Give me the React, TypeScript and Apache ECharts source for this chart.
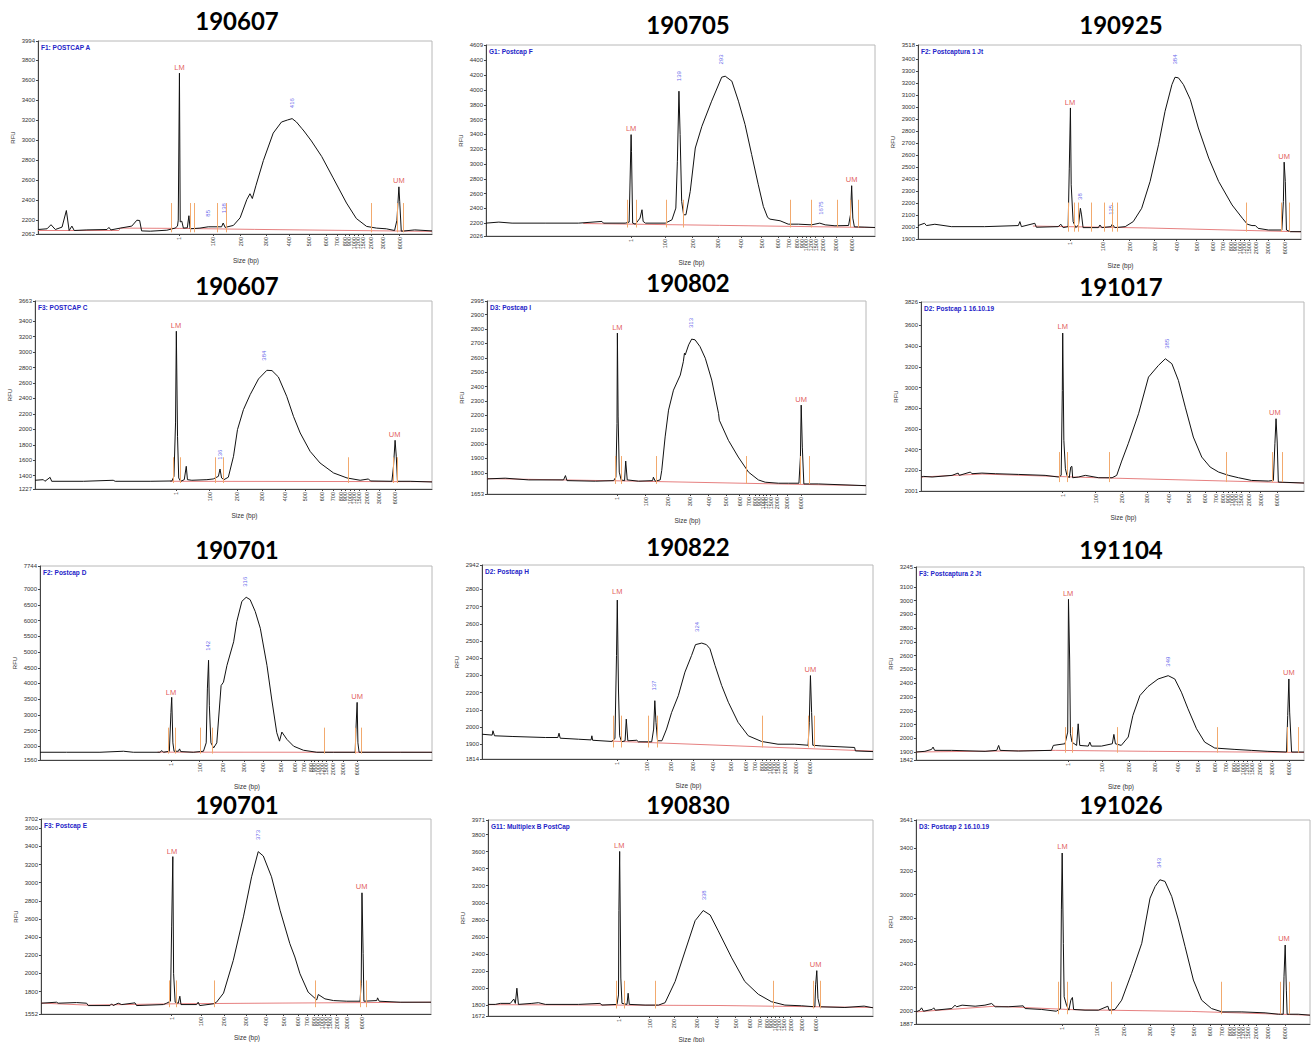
import React, { useEffect, useRef } from "react";
import * as echarts from "echarts";

// ---------- ladder (x-axis tick labels) ----------
const LADDER_SIZES = [1, 100, 200, 300, 400, 500, 600, 700, 800, 900, 1000, 1200, 1500, 2000, 3000, 6000];
// relative spacing of the ladder between the lower marker (1) and the upper marker (6000)
const LADDER_REL = [0, 0.154, 0.278, 0.394, 0.497, 0.59, 0.665, 0.715, 0.751, 0.771, 0.792, 0.811, 0.834, 0.869, 0.925, 1];

// ---------- panels ----------
const TITLES = ["190607", "190705", "190925", "190607", "190802", "191017", "190701", "190822", "191104", "190701", "190830", "191026"];
const SAMPLE_NAMES = [
  "F1: POSTCAP A", "G1: Postcap F", "F2: Postcaptura 1 Jt",
  "F3: POSTCAP C", "D3: Postcap I", "D2: Postcap 1 16.10.19",
  "F2: Postcap D", "D2: Postcap H", "F3: Postcaptura 2 Jt",
  "F3: Postcap E", "G11: Multiplex B PostCap", "D3: Postcap 2 16.10.19",
];
const X_NAMES = ["Size (bp)", "Size (bp)", "Size (bp)", "Size (bp)", "Size (bp)", "Size (bp)", "Size (bp)", "Size (bp)", "Size (bp)", "Size (bp)", "Size (bp)", ""];
const Y_MIN = [2062, 2026, 1900, 1227, 1653, 2001, 1560, 1814, 1842, 1552, 1672, 1887];
const Y_MAX = [3994, 4609, 3518, 3663, 2995, 3826, 7744, 2942, 3245, 3702, 3971, 3641];
const Y_STEP = [200, 200, 100, 200, 100, 200, 500, 100, 100, 200, 200, 200];
// x position (percent of plot width) of the lower (1 bp) and upper (6000 bp) markers
const LM_POS = [35.9, 37.3, 39.7, 35.5, 34.4, 37.0, 33.4, 34.6, 39.2, 33.5, 34.1, 37.1];
const UM_POS = [91.8, 94.2, 95.7, 90.8, 82.9, 92.9, 80.9, 84.0, 96.1, 82.2, 85.3, 93.7];

// ---------- traces: [x position %, RFU] ----------
const TRACE_1 = [[0,2107],[2.3,2114],[3.3,2155],[4.4,2107],[6.1,2131],[7.2,2297],[7.9,2097],[8.6,2141],[9.2,2097],[12.4,2103],[17.5,2107],[18.0,2128],[18.5,2103],[20.9,2121],[23.8,2141],[25.1,2200],[25.8,2197],[26.3,2093],[28.5,2090],[32.7,2100],[34.8,2121],[35.4,2141],[35.6,2200],[35.9,3672],[36.1,2183],[36.5,2190],[36.9,2121],[37.9,2124],[38.3,2245],[38.6,2114],[41.1,2121],[43.2,2134],[46.6,2134],[47.0,2172],[47.5,2128],[49.6,2148],[51.3,2224],[53.0,2407],[53.8,2465],[54.4,2417],[55.3,2545],[57.2,2797],[59.7,3072],[61.8,3183],[63.3,3203],[64.5,3217],[65.6,3183],[66.9,3121],[67.5,3093],[69.4,2993],[72.0,2838],[74.9,2624],[78.3,2372],[80.8,2217],[83.4,2138],[85.9,2121],[88.4,2114],[90.5,2097],[91.1,2200],[91.6,2534],[91.8,2390],[92.2,2090],[93.1,2093],[95.6,2103],[100,2093]];
const TRACE_2 = [[0,2200],[3.3,2214],[6.7,2200],[15.2,2200],[23.8,2200],[29.8,2223],[30.2,2200],[35.8,2200],[36.8,2214],[37.3,3397],[37.4,3171],[37.7,2200],[38.4,2186],[39.6,2268],[40.1,2381],[40.4,2223],[41.0,2200],[46.1,2200],[47.8,2245],[48.8,2403],[49.2,3036],[49.6,3984],[49.9,3397],[50.3,2494],[50.8,2313],[51.4,2313],[52.5,2629],[53.8,3216],[55.5,3510],[58.0,3849],[60.6,4174],[61.5,4187],[63.2,4120],[64.9,3849],[66.6,3533],[68.3,3126],[70.0,2719],[71.3,2426],[72.4,2277],[73.0,2254],[75.6,2232],[77.7,2186],[80.3,2186],[83.7,2177],[85.8,2200],[87.2,2177],[89.7,2164],[93.2,2168],[93.7,2313],[94.0,2706],[94.3,2268],[94.7,2150],[97.4,2146],[100,2141]];
const TRACE_3 = [[0,2012],[1.7,2031],[2.2,2012],[4.4,2023],[8.7,2003],[17.4,2003],[26.2,2012],[26.6,2045],[27.0,2003],[30.5,2031],[30.9,1998],[36.6,2003],[37.3,2023],[37.9,1995],[39.2,2003],[39.5,2491],[39.8,2993],[40.0,2352],[40.5,2045],[41.2,1995],[41.9,2017],[42.4,2156],[42.7,2101],[43.1,1995],[47.1,1995],[47.5,2017],[48.0,1995],[50.4,2003],[50.7,2023],[51.4,1995],[54.1,2003],[56.2,2045],[58.4,2156],[60.6,2380],[62.8,2686],[64.5,2965],[66.3,3188],[67.1,3249],[68.0,3244],[69.3,3188],[71.1,3063],[73.2,2826],[75.9,2575],[78.5,2380],[82.0,2184],[84.7,2073],[86.0,2023],[87.2,2012],[88.1,2012],[88.8,1989],[91.5,1975],[95.0,1975],[95.4,2212],[95.6,2541],[95.9,2380],[96.2,1975],[97.2,1961],[100,1961]];
const TRACE_4 = [[0,1340],[2.1,1348],[2.5,1327],[3.8,1378],[4.2,1327],[12.2,1327],[19.7,1340],[20.2,1327],[29.0,1327],[34.5,1331],[35.0,1391],[35.4,2083],[35.6,3271],[35.9,1910],[36.2,1370],[36.7,1327],[37.6,1348],[38.1,1521],[38.4,1348],[39.5,1340],[43.3,1348],[44.9,1357],[46.2,1391],[46.6,1486],[47.0,1370],[47.6,1348],[48.7,1380],[50.0,1651],[51.0,1996],[52.5,2255],[54.2,2450],[56.3,2653],[58.4,2765],[59.7,2761],[61.3,2679],[63.4,2428],[65.1,2169],[66.8,1953],[69.3,1715],[71.8,1564],[75.2,1435],[78.6,1370],[81.9,1340],[84.0,1357],[84.5,1331],[89.9,1327],[90.3,1521],[90.7,1858],[91.0,1651],[91.3,1327],[94.5,1327],[100,1318]];
const TRACE_5 = [[0,1758],[4.8,1763],[11.0,1751],[20.2,1751],[20.7,1781],[21.1,1746],[28.6,1742],[33.4,1746],[34.0,1770],[34.3,2143],[34.4,2772],[34.6,2189],[34.9,1805],[35.4,1751],[36.3,1746],[36.6,1882],[37.0,1751],[40.0,1742],[43.7,1746],[43.9,1770],[44.4,1742],[45.7,1751],[46.1,1816],[47.0,2050],[47.9,2236],[49.2,2375],[51.0,2480],[51.8,2573],[52.1,2632],[52.3,2620],[53.2,2690],[54.0,2730],[54.9,2725],[56.2,2678],[57.6,2597],[59.3,2445],[61.1,2212],[61.3,2166],[63.7,2026],[66.3,1910],[69.0,1805],[71.6,1751],[73.4,1735],[76.9,1728],[79.5,1728],[82.3,1728],[82.7,1910],[82.9,2271],[83.2,1979],[83.6,1723],[87.4,1723],[100,1711]];
const TRACE_6 = [[0,2136],[0.7,2142],[2.9,2136],[8.1,2152],[9.7,2174],[10.0,2152],[12.9,2184],[13.3,2168],[15.9,2174],[19.4,2168],[25.5,2161],[32.4,2152],[35.9,2136],[36.6,2152],[36.9,2972],[37.0,3526],[37.3,2490],[37.7,2216],[38.1,2152],[38.7,2129],[39.1,2232],[39.4,2239],[39.6,2129],[41.1,2136],[42.9,2152],[46.4,2129],[49.9,2129],[51.1,2152],[52.4,2290],[54.1,2457],[56.8,2747],[59.4,3101],[62.0,3214],[63.8,3278],[65.5,3230],[67.2,3069],[69.0,2811],[71.1,2522],[73.3,2329],[75.5,2232],[77.7,2184],[80.3,2152],[82.9,2129],[86.3,2103],[90.7,2097],[92.0,2103],[92.4,2457],[92.7,2699],[93.0,2474],[93.3,2087],[100,2078]];
const TRACE_7 = [[0,1807],[6.8,1807],[15.3,1807],[21.3,1839],[23.8,1807],[30.6,1807],[31.1,1860],[31.5,1807],[33.0,1839],[33.4,3074],[33.6,3557],[33.9,2107],[34.2,1839],[35.3,1839],[35.6,1914],[35.9,1828],[39.1,1807],[41.7,1839],[42.4,2107],[42.7,3826],[43.0,4739],[43.2,3289],[43.6,2107],[44.3,1946],[45.1,2107],[46.2,3933],[46.8,4041],[47.7,4578],[49.4,5329],[50.2,5974],[51.5,6618],[52.6,6747],[53.6,6672],[54.9,6296],[56.2,5759],[57.9,4578],[59.1,3504],[60.4,2430],[61.1,2161],[61.7,2451],[63.0,2215],[64.7,2000],[67.2,1871],[70.6,1807],[74.9,1807],[80.4,1807],[80.6,2537],[80.9,3396],[81.1,2107],[81.4,1807],[91.9,1807],[100,1807]];
const TRACE_8 = [[0,1958],[2.6,1953],[2.8,1978],[3.2,1949],[7.7,1945],[16.2,1939],[19.4,1939],[19.7,1964],[20.0,1935],[24.7,1929],[27.9,1925],[28.1,1949],[28.3,1923],[33.2,1916],[34.0,1933],[34.4,2416],[34.6,2738],[34.9,2221],[35.2,1949],[35.7,1914],[36.6,1920],[36.9,2046],[37.3,1920],[39.6,1923],[40.0,1914],[43.4,1914],[43.9,1988],[44.2,2153],[44.5,2027],[44.9,1920],[46.0,1920],[47.2,1988],[48.5,2085],[50.2,2182],[51.9,2319],[53.6,2416],[54.6,2479],[56.2,2488],[57.4,2479],[58.3,2455],[59.6,2358],[61.3,2241],[63.0,2144],[65.5,2027],[68.1,1949],[71.5,1916],[75.7,1900],[80.0,1900],[83.4,1894],[83.7,2027],[84.0,2299],[84.3,2085],[84.6,1894],[86.8,1890],[95.3,1881],[95.5,1861],[100,1857]];
const TRACE_9 = [[0,1900],[2.3,1905],[4.0,1919],[4.4,1936],[4.8,1912],[9.2,1912],[17.8,1905],[20.8,1912],[21.3,1948],[21.7,1912],[26.4,1907],[34.9,1912],[35.4,1948],[36.6,1953],[38.4,1960],[39.1,2045],[39.3,3010],[39.6,2576],[39.8,2033],[40.2,1972],[41.4,1948],[41.8,2105],[42.2,1948],[44.4,1943],[44.8,1972],[45.2,1943],[47.8,1943],[50.6,1960],[51.0,2028],[51.4,1960],[52.9,1948],[54.7,2009],[55.9,2166],[57.7,2310],[59.8,2376],[62.4,2431],[65.0,2455],[66.7,2431],[68.4,2335],[70.1,2214],[72.3,2069],[74.4,1972],[77.0,1929],[82.2,1919],[86.4,1912],[90.7,1905],[95.5,1900],[95.8,2166],[96.1,2431],[96.3,2190],[96.8,1900],[100,1900]];
const TRACE_10 = [[0,1671],[4.0,1682],[4.4,1671],[9.1,1678],[11.7,1671],[12.1,1645],[17.7,1645],[18.1,1664],[18.5,1645],[19.8,1671],[20.7,1656],[24.1,1675],[24.5,1645],[31.4,1656],[32.2,1671],[33.2,1693],[33.5,2512],[33.8,3287],[34.0,1996],[34.4,1682],[35.2,1671],[35.6,1748],[35.9,1656],[39.9,1656],[40.3,1682],[40.7,1645],[44.2,1664],[45.0,1682],[46.8,1782],[49.3,2143],[51.9,2623],[54.0,3065],[55.7,3342],[57.0,3294],[59.1,3065],[61.3,2696],[63.8,2328],[65.1,2180],[66.4,1996],[68.5,1793],[70.7,1708],[71.1,1767],[72.8,1719],[75.0,1700],[78.4,1693],[81.8,1693],[82.1,1885],[82.3,2888],[82.6,2217],[82.8,1693],[86.1,1700],[86.3,1730],[86.7,1693],[92.1,1682],[100,1682]];
const TRACE_11 = [[0,1808],[1.9,1808],[3.2,1820],[5.8,1820],[6.7,1871],[7.1,1820],[7.5,1998],[7.9,1808],[11.4,1820],[13.1,1828],[14.9,1808],[23.5,1808],[29.1,1820],[29.6,1800],[33.5,1808],[33.9,1919],[34.0,2909],[34.2,3602],[34.5,2117],[34.8,1820],[36.1,1808],[36.4,1939],[36.7,1808],[40.8,1800],[44.3,1800],[46.0,1828],[48.6,2077],[51.2,2434],[53.8,2790],[55.9,2909],[57.7,2857],[59.8,2671],[63.3,2354],[66.7,2077],[70.2,1927],[73.6,1840],[77.1,1800],[81.4,1792],[84.9,1780],[85.1,2038],[85.4,2204],[85.7,1879],[86.2,1780],[92.7,1772],[97.7,1788],[100,1768]];
const TRACE_12 = [[0,1991],[1.0,2006],[1.4,2026],[1.9,1997],[4.1,2012],[4.5,2026],[4.9,2006],[9.1,2020],[9.9,2049],[10.3,2035],[11.7,2049],[15.0,2040],[17.5,2049],[19.2,2063],[20.1,2035],[23.4,2035],[27.2,2043],[27.7,2020],[31.9,2012],[35.6,1997],[36.7,2020],[36.9,2868],[37.1,3357],[37.4,2581],[37.6,2121],[38.2,2049],[38.8,2006],[39.3,2092],[39.7,2115],[40.0,2012],[42.9,2006],[46.3,2006],[48.7,2040],[49.0,2006],[50.5,2012],[52.2,2092],[54.7,2322],[57.3,2581],[59.4,2969],[60.7,3070],[61.9,3127],[63.2,3113],[64.9,2983],[66.6,2782],[68.3,2552],[70.4,2265],[72.5,2092],[75.0,2020],[77.7,1991],[82.7,1991],[88.6,1983],[92.0,1971],[93.2,1971],[93.4,2293],[93.7,2566],[94.0,2178],[94.2,1971],[97.0,1971],[100,1963]];
const TRACES = [TRACE_1, TRACE_2, TRACE_3, TRACE_4, TRACE_5, TRACE_6, TRACE_7, TRACE_8, TRACE_9, TRACE_10, TRACE_11, TRACE_12];

// ---------- red baselines ----------
const BASELINES = [
  [[0,2097],[20.5,2097],[20.9,2121],[36,2118],[55,2108],[100,2088]],
  [[25,2195],[60,2170],[100,2140]],
  [[30,2008],[60,1992],[100,1960]],
  [[34,1327],[100,1322]],
  [[0,1760],[40,1742],[100,1711]],
  [[0,2136],[16,2165],[45,2130],[100,2078]],
  [[30,1810],[100,1805]],
  [[33,1918],[100,1860]],
  [[0,1900],[36,1912],[60,1905],[100,1897]],
  [[0,1672],[12,1650],[35,1665],[60,1672],[100,1682]],
  [[0,1805],[60,1795],[100,1772]],
  [[0,1991],[20,2040],[40,2010],[70,1995],[100,1963]],
];

// ---------- orange region markers ----------
const MARKERS_X = [
  [33.8,38.6,39.7,45.4,47.7,84.6,91.1,92.8],
  [36.4,38.6,46.3,50.8,78.2,83.6,90.2,93.6,95.6],
  [39.2,40.8,41.8,45.3,48.6,50.7,52.0,85.6,94.9,97.0],
  [34.7,36.7,45.4,47.3,79.0,90.2,91.3],
  [33.8,35.4,44.6,68.5,82.6,85.1],
  [36.1,38.3,49.1,79.8,91.8,94.4],
  [32.8,34.5,40.9,43.9,72.5,80.3,81.9],
  [33.6,35.5,42.4,44.9,71.7,83.4,85.1],
  [38.4,40.3,51.8,77.7,95.7,98.5],
  [32.9,34.6,44.4,70.3,81.8,83.5],
  [33.4,35.3,43.4,74.1,84.4,86.2],
  [36.1,38.5,49.5,77.4,92.4,94.8],
];
const MARKER_TOP = [2372, 2516, 2204, 1638, 1917, 2377, 2591, 2066, 2081, 1922, 2085, 2250];
const MARKER_BOTTOM = [2079, 2141, 1961, 1305, 1723, 2087, 1764, 1881, 1895, 1627, 1760, 1971];

// ---------- peak labels: [x %, RFU, text] ----------
const PEAK_LABELS = [
  [[35.9,3727,"LM"],[43.2,2269,"85"],[47.2,2321,"138"],[64.4,3372,"416"],[91.6,2597,"UM"]],
  [[37.3,3474,"LM"],[49.7,4187,"139"],[60.4,4413,"293"],[86.1,2403,"1675"],[94.0,2796,"UM"]],
  [[39.7,3035,"LM"],[42.4,2254,"38"],[50.4,2143,"125"],[67.0,3397,"384"],[95.6,2589,"UM"]],
  [[35.5,3344,"LM"],[46.6,1672,"136"],[57.8,2955,"384"],[90.6,1931,"UM"]],
  [[34.4,2814,"LM"],[53.8,2842,"313"],[82.9,2310,"UM"]],
  [[37.0,3593,"LM"],[64.2,3423,"385"],[92.4,2757,"UM"]],
  [[33.4,3718,"LM"],[42.9,5200,"142"],[52.4,7241,"316"],[80.9,3579,"UM"]],
  [[34.6,2790,"LM"],[44.1,2241,"137"],[54.9,2582,"324"],[84.0,2334,"UM"]],
  [[39.2,3054,"LM"],[65.0,2557,"349"],[96.1,2479,"UM"]],
  [[33.6,3349,"LM"],[55.6,3526,"373"],[82.2,2955,"UM"]],
  [[34.1,3669,"LM"],[56.2,3087,"338"],[85.1,2275,"UM"]],
  [[37.2,3409,"LM"],[61.8,3271,"343"],[93.4,2624,"UM"]],
];

// ---------- layout (pixels) ----------
const PLOT_BOX = [
  [38, 41, 432, 234], [486, 45, 875, 236], [918, 45, 1301, 239],
  [35, 301, 432, 489], [487, 301, 866, 494], [921, 302, 1304, 491],
  [40, 566, 432, 760], [482, 565, 873, 759], [916, 567, 1304, 760],
  [41, 819, 431, 1014], [488, 820, 873, 1016], [916, 820, 1310, 1024],
];
const X_NAME_GAP = [23, 23, 23, 23, 23, 23, 23, 23, 23, 20, 20, 20];
const TITLE_POS = [
  [237, 20], [688, 24], [1121, 24],
  [237, 285], [688, 282], [1121, 286],
  [237, 549], [688, 546], [1121, 549],
  [237, 804], [688, 804], [1121, 804],
];

function yTicks(min: number, max: number, step: number) {
  const t = [min];
  for (let v = Math.ceil(min / step) * step; v < max; v += step) {
    if (v - min > 0.5 * step && max - v > 0.5 * step) t.push(v);
  }
  t.push(max);
  return t;
}

function buildOption() {
  const grid: any[] = [];
  const xAxis: any[] = [];
  const yAxis: any[] = [];
  const series: any[] = [];
  const graphic: any[] = [];
  const axisFont = "Liberation Sans";

  for (let i = 0; i < TITLES.length; i++) {
    const [l, t, r, b] = PLOT_BOX[i];
    grid.push({
      left: l, top: t, width: r - l, height: b - t,
      show: true, borderColor: "#b8b8b8", borderWidth: 1,
      backgroundColor: "transparent", containLabel: false, outerBoundsMode: "none",
    });
    const pos = LADDER_REL.map((rel) => LM_POS[i] + rel * (UM_POS[i] - LM_POS[i]));
    xAxis.push({
      gridIndex: i, type: "value", min: 0, max: 100,
      name: X_NAMES[i], nameLocation: "middle", nameGap: X_NAME_GAP[i],
      nameTextStyle: { fontSize: 6.5, color: "#333", fontFamily: axisFont, padding: [0, 0, 0, 22] },
      axisLine: { show: true, onZero: false, lineStyle: { color: "#444", width: 1 } },
      axisTick: { show: true, customValues: pos, length: 2, lineStyle: { color: "#444" } },
      axisLabel: {
        show: true, customValues: pos, rotate: 90, fontSize: 5.5, color: "#333", margin: 3,
        fontFamily: axisFont, hideOverlap: false,
        formatter: (v: number) => {
          const k = pos.findIndex((p) => Math.abs(p - v) < 1e-6);
          return k >= 0 ? String(LADDER_SIZES[k]) : "";
        },
      },
      splitLine: { show: false },
    });
    const ticks = yTicks(Y_MIN[i], Y_MAX[i], Y_STEP[i]);
    yAxis.push({
      gridIndex: i, type: "value", min: Y_MIN[i], max: Y_MAX[i],
      name: "RFU", nameLocation: "middle", nameGap: 22, nameRotate: 90,
      nameTextStyle: { fontSize: 6, color: "#333", fontFamily: axisFont },
      axisLine: { show: true, lineStyle: { color: "#444", width: 1 } },
      axisTick: { show: true, customValues: ticks, length: 2, lineStyle: { color: "#444" } },
      axisLabel: {
        show: true, customValues: ticks, fontSize: 6, color: "#333", margin: 3,
        fontFamily: axisFont, hideOverlap: false,
        formatter: (v: number) => String(Math.round(v)),
      },
      splitLine: { show: false },
    });
    series.push({
      type: "line", xAxisIndex: i, yAxisIndex: i, data: BASELINES[i],
      symbol: "none", silent: true, z: 2,
      lineStyle: { color: "#e06060", width: 0.8 },
      markLine: {
        silent: true, symbol: ["none", "none"], animation: false,
        label: { show: false },
        lineStyle: { color: "#f2aa6e", width: 1, type: "solid" },
        data: MARKERS_X[i].map((x) => [{ coord: [x, MARKER_BOTTOM[i]] }, { coord: [x, MARKER_TOP[i]] }]),
      },
    });
    series.push({
      type: "line", xAxisIndex: i, yAxisIndex: i, data: TRACES[i],
      symbol: "none", showSymbol: false, silent: true, z: 3,
      lineStyle: { color: "#111", width: 1 },
    });
    series.push({
      type: "scatter", xAxisIndex: i, yAxisIndex: i, symbolSize: 1, silent: true, z: 4,
      itemStyle: { color: "transparent" },
      data: PEAK_LABELS[i].map((p: any) => {
        const marker = p[2] === "LM" || p[2] === "UM";
        return {
          value: [p[0], p[1]],
          label: {
            show: true, position: "inside", formatter: String(p[2]),
            color: marker ? "#d92f2f" : "#3b3be6",
            fontSize: marker ? 7.5 : 6, rotate: marker ? 0 : 90,
            fontFamily: axisFont,
          },
        };
      }),
    });
    graphic.push({
      type: "text", x: TITLE_POS[i][0], y: TITLE_POS[i][1], silent: true,
      style: {
        text: TITLES[i], fontSize: 24, fontWeight: "bold", fontFamily: "Lato",
        fill: "#000", align: "center", verticalAlign: "middle",
      },
    });
    graphic.push({
      type: "text", x: l + 3, y: t + 3, silent: true,
      style: {
        text: SAMPLE_NAMES[i], fontSize: 6.5, fontWeight: "bold", fontFamily: axisFont,
        fill: "#2323c8", align: "left", verticalAlign: "top",
      },
    });
  }

  return { animation: false, backgroundColor: "#ffffff", grid, xAxis, yAxis, series, graphic };
}

export default function App() {
  const ref = useRef<HTMLDivElement>(null);
  useEffect(() => {
    document.body.style.margin = "0";
    if (!ref.current) return;
    const chart = echarts.init(ref.current, undefined, { renderer: "svg" });
    chart.setOption(buildOption() as any);
    return () => chart.dispose();
  }, []);
  return <div ref={ref} style={{ width: 1314, height: 1042 }} />;
}
